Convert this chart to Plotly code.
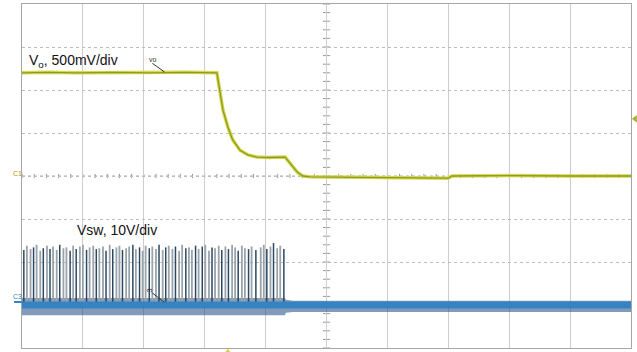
import plotly.graph_objects as go

# ---- Data (time in divisions, voltage in divisions) ----
vo_t = [0.00, 0.40, 0.90, 1.50, 2.10, 2.70, 3.20, 3.25, 3.30, 3.38, 3.46, 3.58, 3.71, 3.86,
        4.05, 4.32, 4.40, 4.52, 4.61, 4.73, 5.50, 6.30, 7.00, 7.06, 8.00, 9.00, 10.00]
vo_v = [2.40, 2.41, 2.40, 2.41, 2.40, 2.41, 2.40, 2.00, 1.53, 1.14, 0.84, 0.60, 0.49, 0.44,
        0.43, 0.44, 0.30, 0.09, 0.00, -0.02, -0.03, -0.04, -0.05, 0.00, 0.01, 0.00, 0.00]

spike_t = [0.03, 0.08, 0.14, 0.19, 0.24, 0.30, 0.35, 0.41, 0.46, 0.51, 0.57, 0.62, 0.68, 0.73,
           0.79, 0.84, 0.89, 0.95, 1.00, 1.06, 1.11, 1.17, 1.22, 1.27, 1.33, 1.38, 1.44, 1.49,
           1.55, 1.60, 1.65, 1.71, 1.76, 1.82, 1.87, 1.93, 1.98, 2.03, 2.09, 2.14, 2.20, 2.25,
           2.31, 2.36, 2.41, 2.47, 2.52, 2.58, 2.63, 2.69, 2.74, 2.79, 2.85, 2.90, 2.96, 3.01,
           3.07, 3.12, 3.17, 3.23, 3.28, 3.34, 3.39, 3.45, 3.50, 3.55, 3.61, 3.66, 3.72, 3.77,
           3.84, 3.92, 3.97, 4.02, 4.08, 4.13, 4.19, 4.24, 4.30]
spike_top = [-1.72, -1.62, -1.70, -1.66, -1.60, -1.74, -1.68, -1.62, -1.70, -1.64, -1.72, -1.60,
             -1.68, -1.66, -1.74, -1.62, -1.70, -1.64, -1.60, -1.72, -1.66, -1.62, -1.70, -1.68,
             -1.64, -1.74, -1.60, -1.70, -1.66, -1.62, -1.72, -1.68, -1.64, -1.60, -1.70, -1.66,
             -1.74, -1.62, -1.68, -1.64, -1.70, -1.60, -1.72, -1.66, -1.62, -1.70, -1.64, -1.74,
             -1.60, -1.68, -1.66, -1.72, -1.62, -1.70, -1.64, -1.60, -1.74, -1.66, -1.68, -1.62,
             -1.72, -1.64, -1.70, -1.60, -1.66, -1.74, -1.62, -1.68, -1.70, -1.64, -1.72, -1.66,
             -1.60, -1.70, -1.64, -1.56, -1.68, -1.62, -1.70]
spike_dark = [1, 0, 0, 1, 0, 0, 1, 0, 1, 0, 0, 1, 0, 0, 1, 0, 1, 0, 0, 1, 0, 0, 1, 0, 0, 1,
              0, 1, 0, 0, 1, 0, 0, 1, 0, 1, 0, 0, 1, 0, 0, 1, 0, 1, 0, 0, 1, 0, 0, 1, 0, 0,
              1, 0, 1, 0, 0, 1, 0, 0, 1, 0, 1, 0, 0, 1, 0, 0, 1, 0, 1, 0, 0, 1, 0, 1, 0, 0, 1]

sw_base = -3.0
sw_env_t = [0.0, 4.32, 4.33, 4.45, 10.0]
sw_env_hi = [-2.84, -2.84, -2.88, -2.90, -2.90]
sw_env_lo = [-3.24, -3.24, -3.18, -3.16, -3.16]

fig = go.Figure()

# Vsw noise envelope
fig.add_trace(go.Scatter(x=sw_env_t, y=sw_env_hi, mode="lines", line=dict(width=0),
                         hoverinfo="skip", showlegend=False))
fig.add_trace(go.Scatter(x=sw_env_t, y=sw_env_lo, mode="lines", line=dict(width=0),
                         fill="tonexty", fillcolor="rgba(28,72,125,0.55)",
                         hoverinfo="skip", showlegend=False))

# Vsw spikes
gx, gy, dx, dy = [], [], [], []
for t, top, d in zip(spike_t, spike_top, spike_dark):
    if d:
        dx += [t, t, None]; dy += [sw_base, top, None]
    else:
        gx += [t, t, None]; gy += [sw_base, top, None]
fig.add_trace(go.Scatter(x=gx, y=gy, mode="lines", line=dict(color="#9aa2aa", width=1.8),
                         hoverinfo="skip", showlegend=False))
fig.add_trace(go.Scatter(x=dx, y=dy, mode="lines", line=dict(color="#2a4862", width=1.5),
                         hoverinfo="skip", showlegend=False))

# Vsw baseline band
fig.add_trace(go.Scatter(x=[0, 10], y=[sw_base, sw_base], mode="lines",
                         line=dict(color="#3583c2", width=7), hoverinfo="skip", showlegend=False))

# Vo trace
fig.add_trace(go.Scatter(x=vo_t, y=vo_v, mode="lines", line=dict(color="#d3d84e", width=3.5),
                         hoverinfo="skip", showlegend=False))
fig.add_trace(go.Scatter(x=vo_t, y=vo_v, mode="lines", line=dict(color="#8e9a22", width=1.3),
                         hoverinfo="skip", showlegend=False))

shapes = []
# center crosshair minor ticks
for i in range(51):
    t = i * 0.2
    shapes.append(dict(type="line", xref="x", yref="y", x0=t, x1=t, y0=-0.05, y1=0.05,
                       line=dict(color="#9a9a9a", width=1), layer="below"))
for i in range(41):
    v = -4 + i * 0.2
    shapes.append(dict(type="line", xref="x", yref="y", x0=4.94, x1=5.06, y0=v, y1=v,
                       line=dict(color="#9a9a9a", width=1), layer="below"))
shapes.append(dict(type="line", xref="x", yref="y", x0=0, x1=10, y0=0, y1=0,
                   line=dict(color="#a8a8a8", width=1, dash="dot"), layer="below"))
# pointer lines for channel tags
shapes.append(dict(type="line", xref="x", yref="y", x0=2.14, x1=2.34, y0=2.62, y1=2.42,
                   line=dict(color="#333", width=1)))
shapes.append(dict(type="line", xref="x", yref="y", x0=2.14, x1=2.34, y0=-2.72, y1=-2.94,
                   line=dict(color="#333", width=1)))
# C3 marker at left
shapes.append(dict(type="line", xref="paper", yref="y", x0=-0.013, x1=0, y0=-2.93, y1=-2.93,
                   line=dict(color="#3483c3", width=2)))
# trigger level marker (right edge)
shapes.append(dict(type="path", xref="paper", yref="y",
                   path="M 1.0015 1.33 L 1.0095 1.42 L 1.0095 1.24 Z",
                   fillcolor="#a8b030", line=dict(width=0)))
# trigger position marker (bottom)
shapes.append(dict(type="path", xref="x", yref="paper",
                   path="M 3.38 -0.002 L 3.34 -0.012 L 3.42 -0.012 Z",
                   fillcolor="#e0cc40", line=dict(width=0)))

fig.update_layout(
    width=637, height=352,
    margin=dict(l=22, r=6, t=4, b=4),
    paper_bgcolor="white", plot_bgcolor="white",
    shapes=shapes,
    xaxis=dict(range=[0, 10], dtick=1, showgrid=True, gridcolor="#cdcdcd", gridwidth=1,
               showticklabels=False, zeroline=False, showline=True, linecolor="#a6a6a6",
               mirror=True, ticks=""),
    yaxis=dict(range=[-4, 4], dtick=1, showgrid=True, gridcolor="#bdbdbd", gridwidth=1,
               griddash="dot", showticklabels=False, zeroline=False, showline=True,
               linecolor="#a6a6a6", mirror=True, ticks=""),
    font=dict(family="Liberation Sans, Arial, sans-serif"),
    annotations=[
        dict(x=0.08, y=2.68, xref="x", yref="y", text="V<sub>o</sub>, 500mV/div",
             showarrow=False, xanchor="left", font=dict(size=14, color="#111")),
        dict(x=2.05, y=2.72, xref="x", yref="y", text="vo", showarrow=False,
             xanchor="left", font=dict(size=7, color="#333")),
        dict(x=0.87, y=-1.26, xref="x", yref="y", text="Vsw, 10V/div",
             showarrow=False, xanchor="left", font=dict(size=14, color="#111")),
        dict(x=2.1, y=-2.65, xref="x", yref="y", text="3", textangle=-90, showarrow=False,
             font=dict(size=8, color="#333")),
        dict(x=-0.018, y=0.06, xref="paper", yref="y", text="C1", showarrow=False,
             font=dict(size=7, color="#a99a20")),
        dict(x=-0.018, y=-2.8, xref="paper", yref="y", text="C3", showarrow=False,
             font=dict(size=7, color="#3a78b0")),
    ],
)

fig.write_html("out.html", config={"displayModeBar": False},
               post_script="document.body.style.margin='0';document.body.style.overflow='hidden';")
